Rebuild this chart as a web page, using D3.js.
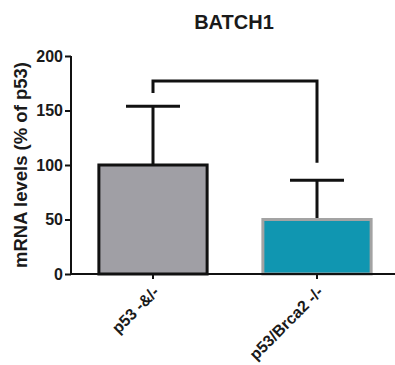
<!DOCTYPE html>
<html><head><meta charset="utf-8">
<script src="https://cdn.jsdelivr.net/npm/d3@7"></script>
<style>body{margin:0;background:#fff;} text{font-family:"Liberation Sans",Arial,sans-serif;font-weight:bold;fill:#1a1a1a;}</style>
</head><body>
<svg id="c" width="395" height="365"></svg>
<script>
const categories = ["p53 -&/-", "p53/Brca2 -/-"];
const means = [100, 50];
const errors = [54, 36];
const fills = ["#a09fa5", "#1096b1"];
const strokes = ["#111111", "#a3a3a3"];
const yTicks = [0, 50, 100, 150, 200];
const bracket = {top: 177, leftEnd: 166, rightEnd: 102};

const svg = d3.select("#c");
const x = d3.scaleBand().domain(categories).range([71, 399]).paddingInner(0.34).paddingOuter(0.17);
const y = d3.scaleLinear().domain([0, 200]).range([274, 56]);

// title
svg.append("text").attr("x", 234).attr("y", 29).attr("text-anchor", "middle")
  .style("font-size", "20px").text("BATCH1");

// y label
svg.append("text").attr("transform", "translate(27,165) rotate(-90)").attr("text-anchor", "middle")
  .style("font-size", "18.5px").text("mRNA levels (% of p53)");

// bars
categories.forEach((c, i) => {
  const cx = x(c) + x.bandwidth() / 2;
  svg.append("line").attr("x1", cx).attr("x2", cx).attr("y1", y(means[i])).attr("y2", y(means[i] + errors[i]))
    .attr("stroke", "#111").attr("stroke-width", 3);
  svg.append("line").attr("x1", cx - 27).attr("x2", cx + 27).attr("y1", y(means[i] + errors[i])).attr("y2", y(means[i] + errors[i]))
    .attr("stroke", "#111").attr("stroke-width", 3);
  svg.append("rect").attr("x", x(c)).attr("width", x.bandwidth())
    .attr("y", y(means[i])).attr("height", y(0) - y(means[i]))
    .attr("fill", fills[i]).attr("stroke", strokes[i]).attr("stroke-width", 3);
});

// significance bracket
const c0 = x(categories[0]) + x.bandwidth() / 2, c1 = x(categories[1]) + x.bandwidth() / 2;
svg.append("path")
  .attr("d", `M${c0},${y(bracket.leftEnd)}V${y(bracket.top)}H${c1}V${y(bracket.rightEnd)}`)
  .attr("fill", "none").attr("stroke", "#111").attr("stroke-width", 3);

// y axis
const ya = svg.append("g").attr("transform", "translate(71,0)")
  .call(d3.axisLeft(y).tickValues(yTicks).tickSize(6).tickPadding(2));
ya.select(".domain").attr("stroke", "#111").attr("stroke-width", 2).attr("d", `M0,${y(200)}V${y(0)}`);
ya.selectAll(".tick line").attr("stroke", "#111").attr("stroke-width", 2);
ya.selectAll(".tick text").style("font-size", "16px").attr("fill", "#1a1a1a");

// x axis
const xa = svg.append("g").attr("transform", `translate(0,${y(0)})`)
  .call(d3.axisBottom(x).tickSize(5).tickSizeOuter(0));
xa.select(".domain").attr("stroke", "#111").attr("stroke-width", 2).attr("d", "M70,0H395");
xa.selectAll(".tick line").attr("stroke", "#111").attr("stroke-width", 2);
xa.selectAll(".tick text").style("font-size", "16px").attr("fill", "#1a1a1a")
  .attr("text-anchor", "end").attr("dy", "0.35em")
  .attr("transform", "translate(3,15) rotate(-45)").attr("y", 0).attr("x", 0);
</script>
</body></html>
